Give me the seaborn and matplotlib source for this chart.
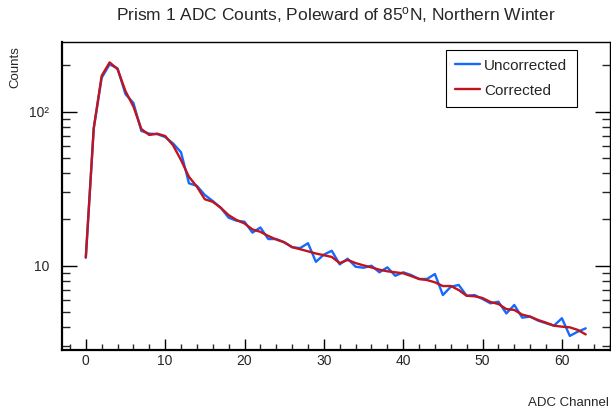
import numpy as np
import pandas as pd
import matplotlib
matplotlib.use("Agg")
import matplotlib.pyplot as plt
import seaborn as sns
from matplotlib.ticker import FixedLocator, FuncFormatter, MultipleLocator, NullFormatter
from matplotlib.lines import Line2D

# ---- data ----
channels = list(range(64))
uncorrected = [11.3, 78, 166, 203, 191, 130, 114, 75, 72, 71.5, 68.5, 62.2,
               54.5, 34.3, 33.0, 28.8, 26.3, 23.8, 20.5, 19.6, 19.3, 16.4,
               17.7, 14.9, 14.9, 14.2, 13.2, 13.0, 14.0, 10.6, 11.8, 12.5,
               10.2, 11.1, 9.85, 9.7, 10.0, 9.06, 9.76, 8.6, 9.06, 8.7,
               8.2, 8.2, 8.83, 6.45, 7.3, 7.5, 6.38, 6.45, 6.08, 5.7,
               5.84, 4.9, 5.56, 4.6, 4.67, 4.4, 4.23, 4.08, 4.56, 3.5,
               3.73, 3.92]
corrected = [11.3, 78, 171, 209, 189, 136, 108, 77.2, 70.6, 72, 69.5, 60.5,
             48.5, 37.8, 32.6, 27.0, 26.0, 23.8, 21.3, 19.8, 18.8, 17.2,
             16.6, 15.6, 14.8, 14.2, 13.2, 12.8, 12.4, 12.0, 11.7, 11.4,
             10.4, 10.9, 10.4, 10.05, 9.75, 9.42, 9.2, 9.06, 8.93, 8.57,
             8.2, 8.07, 7.8, 7.38, 7.38, 6.95, 6.38, 6.33, 6.17, 5.81,
             5.64, 5.23, 5.16, 4.81, 4.67, 4.44, 4.27, 4.08, 4.02, 3.98,
             3.83, 3.58]
series_names = ["Uncorrected", "Corrected"]
series_colors = ["#1469ff", "#c0141e"]
x_ticks = [0, 10, 20, 30, 40, 50, 60]
title = r"Prism 1 ADC Counts, Poleward of 85$^{\rm o}$N, Northern Winter"
x_label = "ADC Channel"
y_label = "Counts"

sns.set_style("ticks")
plt.rcParams['font.family'] = ['Liberation Sans', 'DejaVu Sans']
plt.rcParams['mathtext.fontset'] = 'custom'
plt.rcParams['mathtext.rm'] = 'Liberation Sans'
plt.rcParams['mathtext.it'] = 'Liberation Sans:italic'

df = pd.DataFrame({
    "ADC": channels * 2,
    "Counts": uncorrected + corrected,
    "Series": [series_names[0]] * len(channels) + [series_names[1]] * len(channels),
})

W, H = 611, 411
fig = plt.figure(figsize=(W / 100, H / 100), dpi=100)
left, right, top, bottom = 62, 609.5, 42, 350
ax = fig.add_axes([left / W, 1 - bottom / H, (right - left) / W, (bottom - top) / H])

sns.lineplot(data=df, x="ADC", y="Counts", hue="Series",
             palette=dict(zip(series_names, series_colors)),
             linewidth=1.7, ax=ax, legend=False, sort=False)

ax.set_yscale('log')
ax.set_xlim(-3.0, 66.0)
ax.set_ylim(2.836, 283.5)

ax.set_xlabel("")
ax.set_ylabel("")

ax.xaxis.set_major_locator(FixedLocator(x_ticks))
ax.xaxis.set_minor_locator(MultipleLocator(2))
ax.yaxis.set_major_locator(FixedLocator([10, 100]))
ax.yaxis.set_minor_locator(FixedLocator([3, 4, 5, 6, 7, 8, 9, 20, 30, 40, 50, 60, 70, 80, 90, 200]))
ax.yaxis.set_major_formatter(FuncFormatter(lambda v, p: "10" if abs(v - 10) < 1e-6 else "10²"))
ax.yaxis.set_minor_formatter(NullFormatter())

ax.tick_params(axis='x', which='major', direction='in', length=8, width=1.0,
               labelsize=10, pad=3, top=False, color='black')
ax.tick_params(axis='x', which='minor', direction='in', length=4, width=1.0, top=False)
ax.tick_params(axis='y', which='major', direction='in', length=11, width=1.0,
               labelsize=10, pad=9, right=True, color='black')
ax.tick_params(axis='y', which='minor', direction='in', length=6, width=1.0, right=True)

for side in ['left', 'bottom', 'right', 'top']:
    ax.spines[side].set_visible(True)
    ax.spines[side].set_color('black')
    ax.spines[side].set_linewidth(1.0)
ax.spines['left'].set_linewidth(1.6)
ax.spines['bottom'].set_linewidth(1.6)

handles = [Line2D([0], [0], color=c, lw=1.7) for c in series_colors]
leg = fig.legend(handles, series_names, loc='upper left',
                 bbox_to_anchor=(446 / W, 1 - 50 / H, 131 / W, 0.001),
                 mode='expand', fontsize=11, frameon=True, fancybox=False,
                 edgecolor='black', framealpha=1, borderpad=0.6,
                 handlelength=1.6, handletextpad=0.3, labelspacing=0.72,
                 borderaxespad=0)
leg.get_frame().set_linewidth(0.8)

fig.text(336 / W, 1 - 15 / H, title, ha='center', va='center', fontsize=12.5)
fig.text(609 / W, 1 - 403 / H, x_label, ha='right', va='center', fontsize=9.5)
fig.text(15 / W, 1 - 46 / H, y_label, ha='center', va='top', rotation=90, fontsize=9.5)

fig.savefig("out.png", dpi=100)
